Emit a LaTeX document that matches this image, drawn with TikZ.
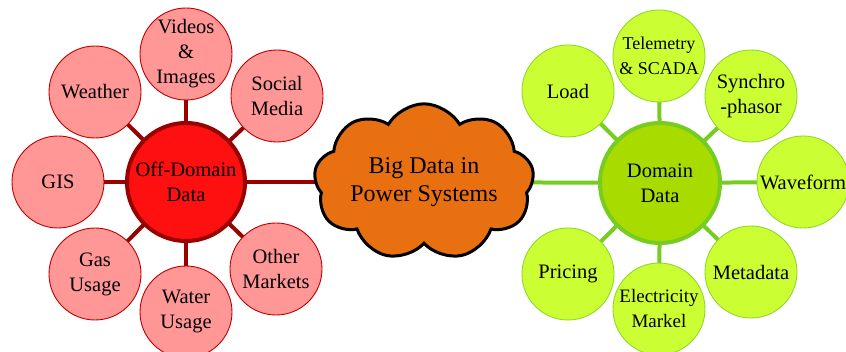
\documentclass[tikz,border=0pt]{standalone}
\usepackage{fontspec}
\setmainfont{Liberation Serif}
\newfontfamily\tmsfont{Liberation Serif}
\usetikzlibrary{shapes.symbols}
\pgfdeclarelayer{bg}
\pgfsetlayers{bg,main}
\definecolor{lsatfill}{HTML}{FF9797}
\definecolor{lsatdraw}{HTML}{C00000}
\definecolor{lhubfill}{HTML}{FF1010}
\definecolor{lhubdraw}{HTML}{990000}
\definecolor{rsatfill}{HTML}{CCFF33}
\definecolor{rsatdraw}{HTML}{8FD82A}
\definecolor{rhubfill}{HTML}{A8DC00}
\definecolor{rhubdraw}{HTML}{77CC22}
\definecolor{cloudfill}{HTML}{E87010}
\tikzset{
  txt/.style={font=\tmsfont\fontsize{20.5}{25}\selectfont, align=center, text=black, inner sep=0pt},
  lsat/.style={txt, circle, minimum size=92pt, fill=lsatfill, draw=lsatdraw, line width=0.9pt},
  rsat/.style={txt, circle, minimum size=92pt, fill=rsatfill, draw=rsatdraw, line width=0.9pt},
  lhub/.style={txt, circle, minimum size=118pt, fill=lhubfill, draw=lhubdraw, line width=4pt},
  rhub/.style={txt, circle, minimum size=120pt, fill=rhubfill, draw=rhubdraw, line width=4pt},
  lline/.style={draw=lhubdraw, line width=4pt},
  rline/.style={draw=rhubdraw, line width=4pt},
  bigcloud/.style={cloud, cloud puffs=9, cloud puff arc=120, aspect=1.7, minimum width=214pt, minimum height=126pt, inner sep=0pt, fill=cloudfill, draw=black, line width=3pt, align=center, font=\tmsfont\fontsize{24}{28}\selectfont}
}
\begin{document}
\begin{tikzpicture}[x=1pt,y=-1pt]
\useasboundingbox (0,0) rectangle (846,352);
% left
\node[lhub] (L) at (186,182) {Off-Domain\\Data};
\node[lsat] (vid) at (186,54) {Videos\\\&\\Images};
\node[lsat] (wea) at (95,92) {Weather};
\node[lsat] (soc) at (277,96) {Social\\Media};
\node[lsat] (gis) at (58,182) {GIS};
\node[lsat] (gas) at (95,274) {Gas\\Usage};
\node[lsat] (wat) at (186,312) {Water\\Usage};
\node[lsat] (oth) at (276,269) {Other\\Markets};
% cloud
\node[bigcloud] (C) at (424,182) {Big Data in\\Power Systems};
% right
\node[rhub] (R) at (660,183) {Domain\\Data};
\node[rsat] (tel) at (659,56) {\fontsize{18}{22}\selectfont Telemetry\\\fontsize{18}{22}\selectfont\& SCADA};
\node[rsat] (load) at (568,91) {Load};
\node[rsat] (syn) at (751,96) {Synchro\\-phasor};
\node[rsat] (wav) at (803,182) {Waveform};
\node[rsat] (met) at (751,272) {Metadata};
\node[rsat] (ele) at (659,309) {\fontsize{19}{24}\selectfont Electricity\\\fontsize{19}{24}\selectfont Markel};
\node[rsat] (pri) at (568,274) {Pricing};
\begin{pgfonlayer}{bg}
\foreach \s in {vid,wea,soc,gis,gas,wat,oth,C} \draw[lline] (L.center) -- (\s.center);
\foreach \s in {tel,load,syn,wav,met,ele,pri} \draw[rline] (R.center) -- (\s.center);
\draw[rline] (R.center) -- (C.center);
\end{pgfonlayer}
\end{tikzpicture}
\end{document}
